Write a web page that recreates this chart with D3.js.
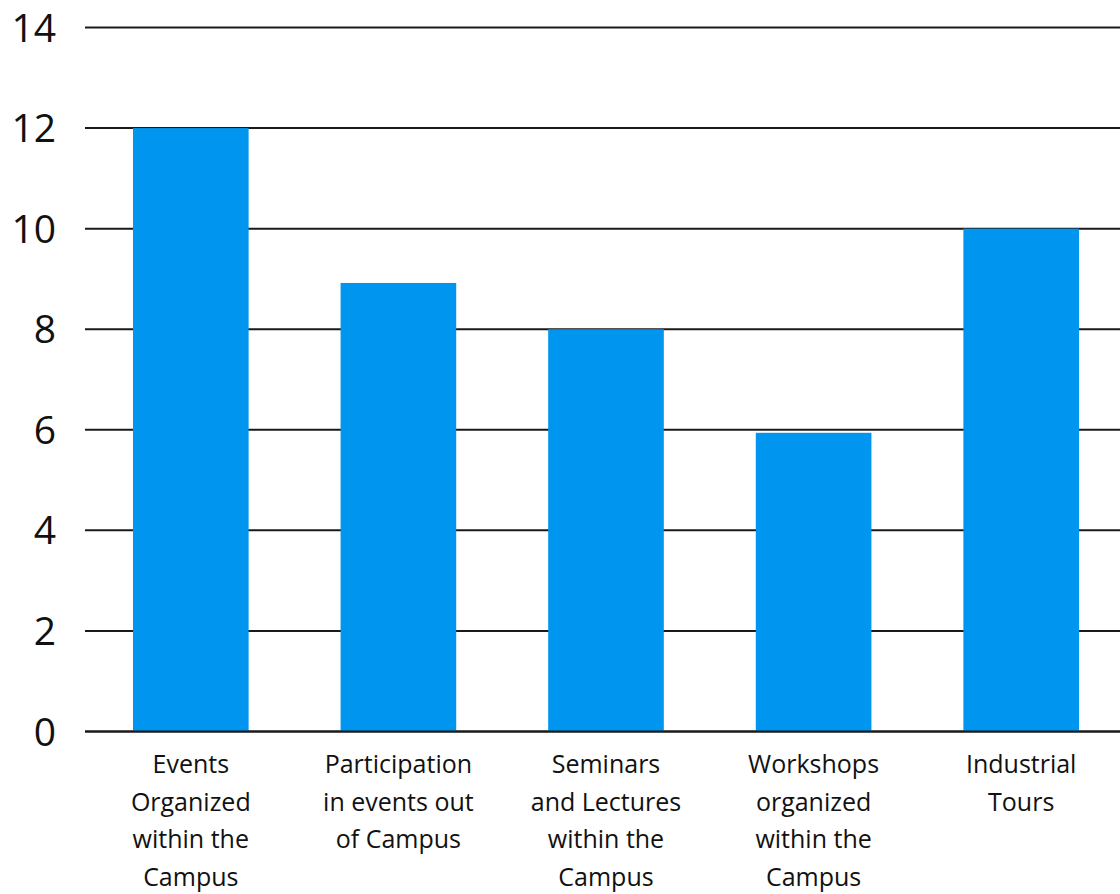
<!DOCTYPE html>
<html><head><meta charset="utf-8">
<script src="https://cdn.jsdelivr.net/npm/d3@7"></script>
<style>html,body{margin:0;padding:0;background:#fff;}svg{display:block;}</style>
</head><body>
<svg id="chart" width="1120" height="894"></svg>
<script>
const categories = [
  ["Events", "Organized", "within the", "Campus"],
  ["Participation", "in events out", "of Campus"],
  ["Seminars", "and Lectures", "within the", "Campus"],
  ["Workshops", "organized", "within the", "Campus"],
  ["Industrial", "Tours"]
];
const values = [12, 8.92, 8, 5.94, 10];
const yTicks = [0, 2, 4, 6, 8, 10, 12, 14];

const svg = d3.select("#chart");
const font = "'Open Sans', sans-serif";
const x = d3.scaleBand().domain(d3.range(categories.length)).range([87, 1125]).paddingInner(0.443).paddingOuter(0.2215);
const y = d3.scaleLinear().domain([0, 14]).range([731.5, 27.5]);

// gridlines
svg.append("g").selectAll("line").data(yTicks).join("line")
  .attr("x1", 85).attr("x2", 1120)
  .attr("y1", d => y(d)).attr("y2", d => y(d))
  .attr("stroke", "#1a1a1a").attr("stroke-width", 2);

// bars
svg.append("g").selectAll("rect").data(values).join("rect")
  .attr("x", (d, i) => x(i)).attr("width", x.bandwidth())
  .attr("y", d => y(d)).attr("height", d => y(0) - y(d))
  .attr("fill", "#0095ee");

// redraw baseline over bars
svg.append("line").attr("x1", 85).attr("x2", 1120).attr("y1", y(0)).attr("y2", y(0))
  .attr("stroke", "#1a1a1a").attr("stroke-width", 2);

// y tick labels
svg.append("g").selectAll("text").data(yTicks).join("text")
  .attr("x", 56).attr("y", d => y(d)).attr("dy", "0.36em")
  .attr("text-anchor", "end").attr("font-family", font).attr("font-size", 39)
  .attr("fill", "#111").text(d => d);

// x labels
const xl = svg.append("g").selectAll("text").data(categories).join("text")
  .attr("text-anchor", "middle").attr("font-family", font).attr("font-size", 25)
  .attr("fill", "#111");
xl.each(function(lines, i) {
  d3.select(this).selectAll("tspan").data(lines).join("tspan")
    .attr("x", x(i) + x.bandwidth() / 2)
    .attr("y", (d, j) => 773 + j * 37.5)
    .text(d => d);
});
</script>
</body></html>
